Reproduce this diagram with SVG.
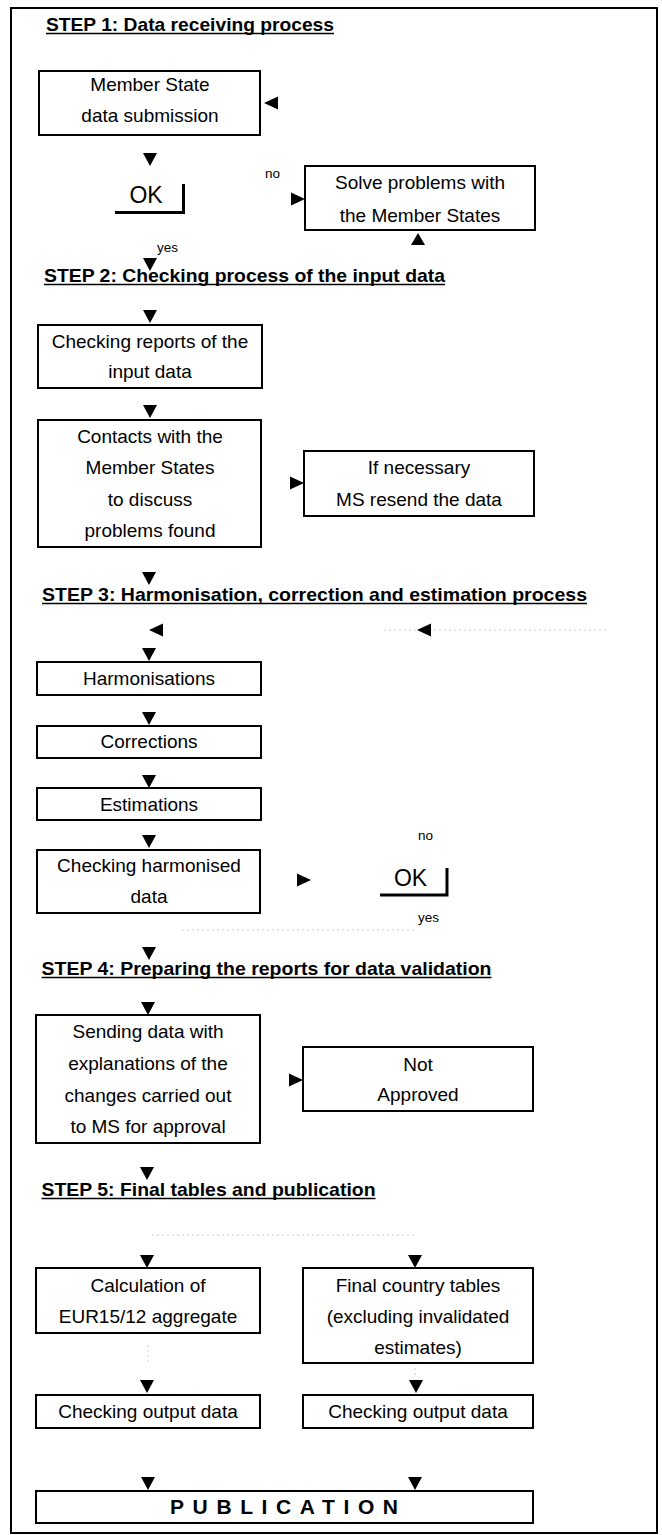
<svg xmlns="http://www.w3.org/2000/svg" xmlns:xlink="http://www.w3.org/1999/xlink" width="662" height="1535" viewBox="0 0 662 1535">
<style>
.bg{fill:#fff}
.frame{fill:none;stroke:#000;stroke-width:2}
.box{fill:#fff;stroke:#000;stroke-width:2}
text{font-family:"Liberation Sans",Arial,sans-serif;fill:#000}
.t{font-size:19px;text-anchor:middle}
.step{font-size:19px;font-weight:bold}
.ul{stroke:#000;stroke-width:1.5}
.lbl{font-size:13.5px}
.ok{font-size:23px;text-anchor:middle}
.pub{font-size:21px;font-weight:bold}
.shadow{fill:none;stroke:#000;stroke-width:3}
.arr{fill:#000}
.faint{fill:none;stroke:#cfcfcf;stroke-width:1;stroke-dasharray:2 3}
</style>
<defs>
<polygon id="down" points="-7,0 7,0 0,13"/>
<polygon id="up" points="0,0 7,12 -7,12"/>
<polygon id="right" points="0,0 -14,-6.5 -14,6.5"/>
<polygon id="left" points="0,0 14,-6.5 14,6.5"/>
</defs>
<rect class="bg" x="0" y="0" width="662" height="1535"/>
<rect class="frame" x="11" y="8" width="646" height="1525"/>

<g id="step1-title">
<text class="step" x="46" y="31" textLength="288" lengthAdjust="spacingAndGlyphs">STEP 1: Data receiving process</text>
<line class="ul" x1="46" y1="33.5" x2="334" y2="33.5"/>
</g>
<g id="ms-submission">
<rect class="box" x="39" y="71" width="221" height="64"/>
<text class="t" x="150" y="91">Member State</text>
<text class="t" x="150" y="122">data submission</text>
</g>
<g id="ok1">
<text class="ok" x="146" y="203">OK</text>
<polyline class="shadow" points="115,212.5 183.5,212.5 183.5,184"/>
</g>
<g id="solve-problems">
<rect class="box" x="305" y="166" width="230" height="64"/>
<text class="t" x="420" y="189">Solve problems with</text>
<text class="t" x="420" y="222">the Member States</text>
</g>

<g id="step2-title">
<text class="step" x="44" y="282" textLength="401" lengthAdjust="spacingAndGlyphs">STEP 2: Checking process of the input data</text>
<line class="ul" x1="44" y1="284.5" x2="445" y2="284.5"/>
</g>
<g id="checking-reports">
<rect class="box" x="38" y="325" width="224" height="63"/>
<text class="t" x="150" y="348">Checking reports of the</text>
<text class="t" x="150" y="378">input data</text>
</g>
<g id="contacts">
<rect class="box" x="38" y="420" width="223" height="127"/>
<text class="t" x="150" y="443">Contacts with the</text>
<text class="t" x="150" y="474">Member States</text>
<text class="t" x="150" y="505.5">to discuss</text>
<text class="t" x="150" y="537">problems found</text>
</g>
<g id="ms-resend">
<rect class="box" x="304" y="451" width="230" height="65"/>
<text class="t" x="419" y="474">If necessary</text>
<text class="t" x="419" y="505.5">MS resend the data</text>
</g>

<g id="step3-title">
<text class="step" x="42" y="601" textLength="545" lengthAdjust="spacingAndGlyphs">STEP 3: Harmonisation, correction and estimation process</text>
<line class="ul" x1="42" y1="603.5" x2="587" y2="603.5"/>
</g>
<g id="harmonisations">
<rect class="box" x="37" y="662" width="224" height="33"/>
<text class="t" x="149" y="685">Harmonisations</text>
</g>
<g id="corrections">
<rect class="box" x="37" y="726" width="224" height="32"/>
<text class="t" x="149" y="748">Corrections</text>
</g>
<g id="estimations">
<rect class="box" x="37" y="788" width="224" height="32"/>
<text class="t" x="149" y="811">Estimations</text>
</g>
<g id="checking-harmonised">
<rect class="box" x="37" y="850" width="223" height="63"/>
<text class="t" x="149" y="872">Checking harmonised</text>
<text class="t" x="149" y="903">data</text>
</g>
<g id="ok2">
<text class="ok" x="410.5" y="886">OK</text>
<polyline class="shadow" points="380,895 447,895 447,868"/>
</g>

<g id="step4-title">
<text class="step" x="41.5" y="975" textLength="450" lengthAdjust="spacingAndGlyphs">STEP 4: Preparing the reports for data validation</text>
<line class="ul" x1="41.5" y1="977.5" x2="491.5" y2="977.5"/>
</g>
<g id="sending-data">
<rect class="box" x="36" y="1015" width="224" height="128"/>
<text class="t" x="148" y="1038">Sending data with</text>
<text class="t" x="148" y="1070">explanations of the</text>
<text class="t" x="148" y="1102">changes carried out</text>
<text class="t" x="148" y="1133">to MS for approval</text>
</g>
<g id="not-approved">
<rect class="box" x="303" y="1047" width="230" height="64"/>
<text class="t" x="418" y="1071">Not</text>
<text class="t" x="418" y="1101">Approved</text>
</g>

<g id="step5-title">
<text class="step" x="41.5" y="1196" textLength="334" lengthAdjust="spacingAndGlyphs">STEP 5: Final tables and publication</text>
<line class="ul" x1="41.5" y1="1198.5" x2="375.5" y2="1198.5"/>
</g>
<g id="calc-aggregate">
<rect class="box" x="36" y="1268" width="224" height="65"/>
<text class="t" x="148" y="1292">Calculation of</text>
<text class="t" x="148" y="1323">EUR15/12 aggregate</text>
</g>
<g id="final-country-tables">
<rect class="box" x="303" y="1268" width="230" height="95"/>
<text class="t" x="418" y="1292">Final country tables</text>
<text class="t" x="418" y="1323">(excluding invalidated</text>
<text class="t" x="418" y="1354">estimates)</text>
</g>
<g id="checking-output-left">
<rect class="box" x="36" y="1395" width="224" height="33"/>
<text class="t" x="148" y="1418">Checking output data</text>
</g>
<g id="checking-output-right">
<rect class="box" x="303" y="1395" width="230" height="33"/>
<text class="t" x="418" y="1418">Checking output data</text>
</g>
<g id="publication">
<rect class="box" x="36" y="1491" width="497" height="32"/>
<text class="pub" x="170" y="1514" textLength="228" lengthAdjust="spacing">PUBLICATION</text>
</g>

<g id="connectors">
<line class="faint" x1="384" y1="630" x2="608" y2="630"/>
<line class="faint" x1="182" y1="930" x2="414" y2="930"/>
<line class="faint" x1="152" y1="1235" x2="416" y2="1235"/>
<line class="faint" x1="148" y1="1345" x2="148" y2="1362"/>
<line class="faint" x1="415" y1="1368" x2="415" y2="1378"/>
<text class="lbl" x="265" y="178">no</text>
<text class="lbl" x="157" y="252">yes</text>
<text class="lbl" x="418" y="840">no</text>
<text class="lbl" x="418" y="922">yes</text>
<g class="arr">
<use xlink:href="#left" x="264" y="103"/>
<use xlink:href="#down" x="150" y="153"/>
<use xlink:href="#right" x="305" y="199"/>
<use xlink:href="#up" x="418" y="233"/>
<use xlink:href="#down" x="150" y="258"/>
<use xlink:href="#down" x="150" y="310"/>
<use xlink:href="#down" x="150" y="405"/>
<use xlink:href="#right" x="304" y="483"/>
<use xlink:href="#down" x="149" y="572"/>
<use xlink:href="#left" x="149" y="630"/>
<use xlink:href="#left" x="417" y="630"/>
<use xlink:href="#down" x="149" y="648"/>
<use xlink:href="#down" x="149" y="712"/>
<use xlink:href="#down" x="149" y="775"/>
<use xlink:href="#down" x="149" y="835"/>
<use xlink:href="#right" x="311" y="880"/>
<use xlink:href="#down" x="149" y="947"/>
<use xlink:href="#down" x="148" y="1002"/>
<use xlink:href="#right" x="303" y="1080"/>
<use xlink:href="#down" x="147" y="1167"/>
<use xlink:href="#down" x="147" y="1255"/>
<use xlink:href="#down" x="415" y="1255"/>
<use xlink:href="#down" x="147" y="1380"/>
<use xlink:href="#down" x="416" y="1380"/>
<use xlink:href="#down" x="148" y="1477"/>
<use xlink:href="#down" x="415" y="1477"/>
</g>
</g>
</svg>
